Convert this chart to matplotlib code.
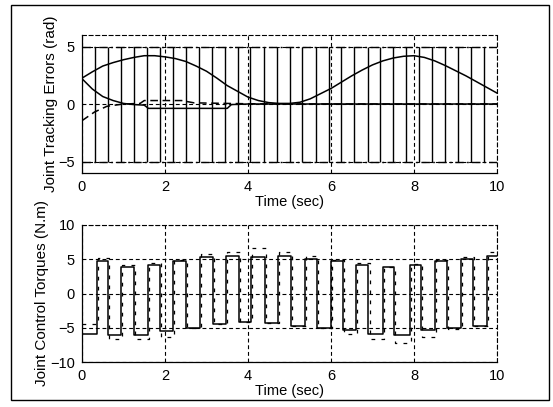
import numpy as np
import matplotlib.pyplot as plt
from matplotlib.patches import Rectangle

plt.rcParams['font.family'] = ['Liberation Sans', 'DejaVu Sans']
plt.rcParams['font.size'] = 10.5

# top plot: joint tracking errors (rad)
err_t = [0, 0.25, 0.5, 0.75, 1.0, 1.25, 1.5, 1.75, 2.0, 2.25, 2.5, 2.75, 3.0, 3.25, 3.5,
         3.75, 4.0, 4.25, 4.5, 4.75, 5.0, 5.25, 5.5, 5.75, 6.0, 6.25, 6.5, 6.75, 7.0,
         7.25, 7.5, 7.75, 8.0, 8.25, 8.5, 8.75, 9.0, 9.25, 9.5, 9.75, 10.0]
err_a = [2.25, 2.8, 3.3, 3.6, 3.85, 4.05, 4.2, 4.2, 4.1, 3.95, 3.7, 3.3, 2.85, 2.25, 1.6,
         1.1, 0.6, 0.3, 0.12, 0.05, 0.05, 0.15, 0.45, 0.9, 1.35, 1.9, 2.45, 2.95, 3.4,
         3.75, 4.0, 4.15, 4.2, 4.05, 3.75, 3.35, 2.9, 2.45, 1.95, 1.45, 0.95]
err_b_t = [0, 0.25, 0.5, 0.75, 1.0, 1.25, 1.5, 1.6, 2.5, 3.5, 3.6, 4.0, 5.0, 6.0, 7.0, 8.0, 9.0, 10.0]
err_b = [2.2, 1.3, 0.65, 0.3, 0.05, -0.05, -0.1, -0.38, -0.38, -0.38, -0.05, 0.0, 0.0, 0.0,
         0.0, 0.0, 0.0, 0.0]
err_c_t = [0, 0.3, 0.6, 1.0, 1.4, 1.5, 2.4, 2.7, 4.0, 5.0, 6.0, 7.0, 8.0, 9.0, 10.0]
err_c = [-1.45, -0.7, -0.2, 0.0, 0.05, 0.3, 0.3, 0.1, 0.02, 0.0, 0.0, 0.0, 0.0, 0.0, 0.0]

# desired square wave: switching instants and amplitude
sq_edges = [0.31, 0.63, 0.94, 1.25, 1.56, 1.88, 2.19, 2.5, 2.81, 3.13, 3.44, 3.75, 4.06,
            4.38, 4.69, 5.0, 5.31, 5.63, 5.94, 6.25, 6.56, 6.88, 7.19, 7.5, 7.81, 8.13,
            8.44, 8.75, 9.06, 9.38, 9.69]
sq_amp = 5

# bottom plot: joint control torques (N.m), piecewise constant
tq_t = [0, 0.37, 0.63, 0.94, 1.25, 1.59, 1.88, 2.19, 2.5, 2.84, 3.16, 3.47, 3.78, 4.07,
        4.4, 4.72, 5.03, 5.37, 5.66, 6.0, 6.29, 6.6, 6.9, 7.25, 7.52, 7.9, 8.17, 8.5,
        8.8, 9.13, 9.42, 9.76, 10.0]
tq1 = [-5.9, 4.7, -6.0, 3.9, -6.0, 4.2, -5.5, 4.8, -5.0, 5.3, -4.4, 5.5, -4.2, 5.4,
       -4.3, 5.5, -4.7, 5.1, -5.1, 4.8, -5.4, 4.2, -5.9, 3.8, -6.1, 4.2, -5.3, 4.8,
       -5.1, 5.1, -4.7, 5.5]
tq2_t = [0, 0.39, 0.66, 0.96, 1.28, 1.61, 1.91, 2.21, 2.53, 2.86, 3.19, 3.49, 3.81, 4.09,
         4.43, 4.74, 5.06, 5.39, 5.69, 6.02, 6.32, 6.62, 6.93, 7.27, 7.55, 7.92, 8.2,
         8.52, 8.83, 9.15, 9.45, 9.78, 10.0]
tq2 = [-4.5, 5.2, -6.6, 4.2, -6.6, 4.4, -6.4, 4.9, -5.0, 5.8, -4.5, 6.1, -4.2, 6.6,
       -4.3, 6.1, -4.8, 5.5, -5.1, 4.9, -5.9, 4.4, -6.6, 3.9, -7.2, 4.3, -6.3, 4.9,
       -5.2, 5.4, -4.7, 6.1]

W, H = 553, 407
fig = plt.figure(figsize=(W / 100, H / 100), dpi=100)
fig.patches.append(Rectangle((11 / W, 1 - 400 / H), 538 / W, 395 / H,
                             transform=fig.transFigure, fill=False, ec='black', lw=1.0))

ax1 = fig.add_axes([82 / W, 1 - 173 / H, 415 / W, 138 / H])
ax2 = fig.add_axes([82 / W, 1 - 362 / H, 415 / W, 137 / H])

grid_ls = (0, (3.5, 2.5))


def style(ax, yt):
    ax.set_xlim(0, 10)
    ax.set_xticks([0, 2, 4, 6, 8, 10])
    ax.set_yticks(yt)
    ax.grid(True, color='black', linestyle=grid_ls, linewidth=0.8)
    for s in ['top', 'right']:
        ax.spines[s].set_linestyle(grid_ls)
        ax.spines[s].set_linewidth(0.8)
    for s in ['left', 'bottom']:
        ax.spines[s].set_linewidth(0.9)
    ax.tick_params(direction='in', length=0, pad=5)
    ax.set_xlabel('Time (sec)', labelpad=1)


# top
style(ax1, [-5, 0, 5])
ax1.set_ylim(-6, 6)
ax1.vlines(sq_edges, -sq_amp, sq_amp, color='black', lw=1.0)
ax1.hlines([sq_amp, -sq_amp], 0, 10, color='black', lw=1.0, linestyle=(0, (6, 2.5, 1.2, 2.5)))
ax1.plot(err_t, err_a, color='black', lw=1.1)
ax1.plot(err_b_t, err_b, color='black', lw=1.1)
ax1.plot(err_c_t, err_c, color='black', lw=1.1, linestyle=(0, (5, 3)))
ax1.set_ylabel('Joint Tracking Errors (rad)', fontsize=11)
ax1.yaxis.set_label_coords(-0.058, 0.5)

# bottom
style(ax2, [-10, -5, 0, 5, 10])
ax2.set_ylim(-10, 10)
ax2.plot(tq2_t, tq2 + [tq2[-1]], color='black', lw=0.9, linestyle=(0, (3, 5)),
         drawstyle='steps-post')
ax2.plot(tq_t, tq1 + [tq1[-1]], color='black', lw=1.1, drawstyle='steps-post')
ax2.set_ylabel('Joint Control Torques (N.m)', fontsize=11)
ax2.yaxis.set_label_coords(-0.08, 0.5)

fig.savefig('out.png', dpi=100)
